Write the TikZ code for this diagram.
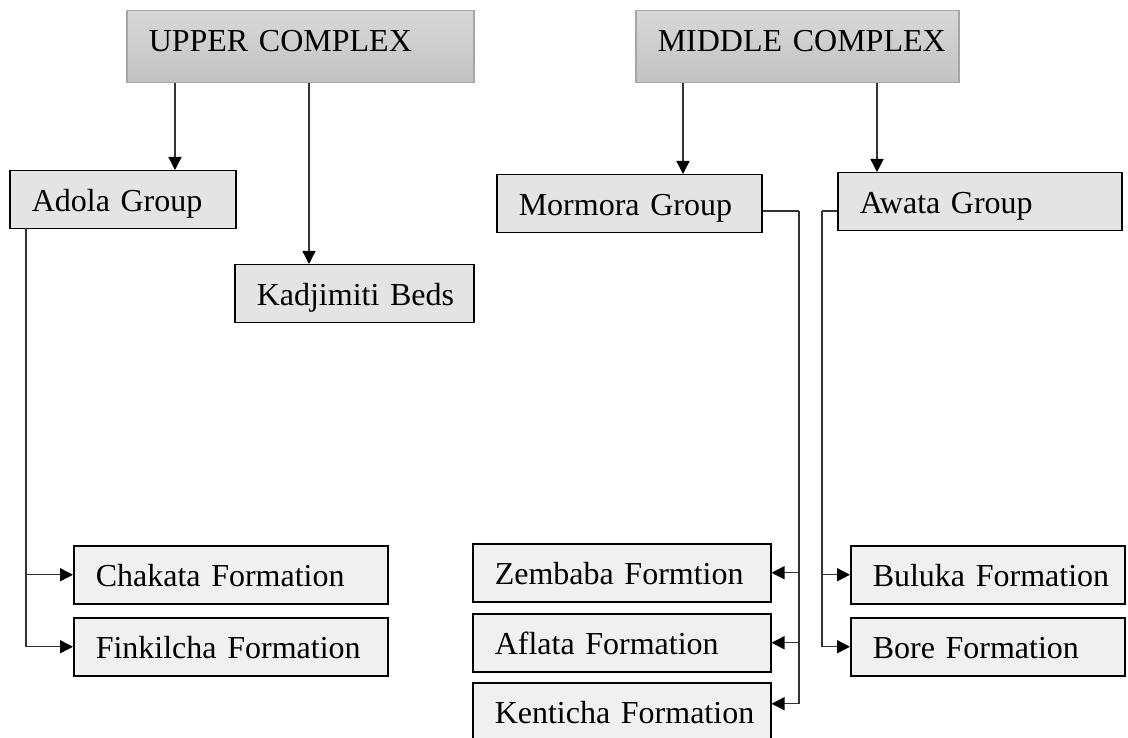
\documentclass[tikz,border=0pt]{standalone}
\usepackage{fontspec}
\setmainfont{Liberation Serif}
\usetikzlibrary{arrows.meta}
\definecolor{complexedge}{HTML}{A6A6A6}
\definecolor{complextop}{HTML}{D8D8D8}
\definecolor{complexbot}{HTML}{C2C2C2}
\definecolor{groupfill}{HTML}{E4E4E4}
\definecolor{unitfill}{HTML}{F0F0F0}
\definecolor{linegray}{HTML}{333333}
\hyphenpenalty=10000
\exhyphenpenalty=10000

\begin{document}
\begin{tikzpicture}[
  x=1pt, y=-1pt,
  >={Triangle[length=13pt,width=13pt,black]},
  font=\fontsize{32}{38}\selectfont,
  complex/.style={rectangle, draw=complexedge, line width=1.5pt, top color=complextop, bottom color=complexbot, anchor=north west, inner xsep=22pt, inner ysep=0pt, text height=41pt, text depth=31pt, align=left},
  group/.style={rectangle, draw=black, line width=1.5pt, fill=groupfill, anchor=north west, inner xsep=22pt, inner ysep=0pt, text height=41pt, text depth=17pt, align=left},
  unit/.style={group, fill=unitfill},
  flow/.style={->, draw=linegray, line width=1.4pt}
]
  \useasboundingbox (0,0) rectangle (1128,738);

  % complexes
  \node[complex, text width=303pt] (upper) at (126,10) {UPPER~COMPLEX};
  \node[complex, text width=279pt] (middle) at (635,10) {MIDDLE~COMPLEX};

  % groups
  \node[group, text width=182pt] (adola) at (9,170) {Adola~Group};
  \node[group, text width=195pt] (kadjimiti) at (234,264) {Kadjimiti~Beds};
  \node[group, text width=221pt] (mormora) at (496,174) {Mormora~Group};
  \node[group, text width=240pt] (awata) at (837,172) {Awata~Group};

  % formations
  \node[unit, text width=270pt] (chakata) at (73,545) {Chakata~Formation};
  \node[unit, text width=270pt] (finkilcha) at (73,617) {Finkilcha~Formation};
  \node[unit, text width=254pt] (zembaba) at (472,543) {Zembaba~Formtion};
  \node[unit, text width=254pt] (aflata) at (472,613) {Aflata~Formation};
  \node[unit, text width=254pt] (kenticha) at (472,682) {Kenticha~Formation};
  \node[unit, text width=230pt] (buluka) at (850,545) {Buluka~Formation};
  \node[unit, text width=230pt] (bore) at (850,617) {Bore~Formation};

  % branch points
  \coordinate (u1) at (175,0);
  \coordinate (u2) at (309,0);
  \coordinate (m1) at (683,0);
  \coordinate (m2) at (877,0);
  \coordinate (abus) at (26,228);
  \coordinate (mbus) at (799,211);
  \coordinate (wbus) at (822,211);

  \draw[flow] (upper.south -| u1) -- (adola.north -| u1);
  \draw[flow] (upper.south -| u2) -- (kadjimiti.north -| u2);
  \draw[flow] (middle.south -| m1) -- (mormora.north -| m1);
  \draw[flow] (middle.south -| m2) -- (awata.north -| m2);

  \draw[flow] (abus) |- (chakata);
  \draw[flow] (abus) |- (finkilcha);

  \draw[draw=linegray, line width=1.4pt] (mormora.east |- mbus) -- (mbus);
  \draw[flow] (mbus) |- (zembaba);
  \draw[flow] (mbus) |- (aflata);
  \draw[flow] (mbus) |- ([yshift=8pt]kenticha.east);

  \draw[draw=linegray, line width=1.4pt] (awata.west |- wbus) -- (wbus);
  \draw[flow] (wbus) |- (buluka);
  \draw[flow] (wbus) |- (bore);
\end{tikzpicture}
\end{document}
